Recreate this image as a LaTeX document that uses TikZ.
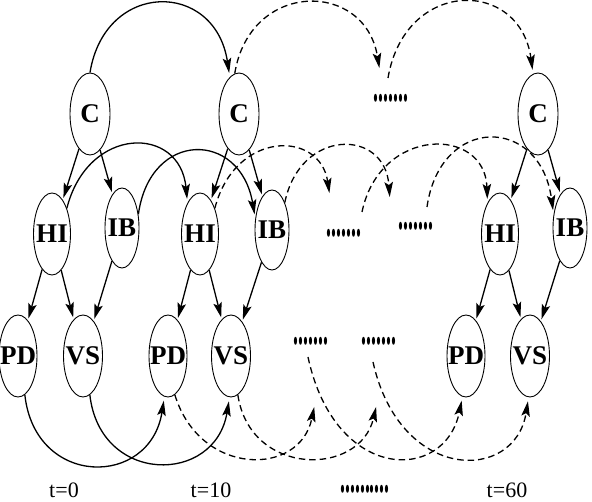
\documentclass[tikz,border=0pt]{standalone}
\usepackage{fontspec}
\setmainfont{Liberation Serif}
\usetikzlibrary{shapes.geometric,arrows.meta}
\newcommand{\dotrow}[1]{\scalebox{0.9}[2.2]{\bfseries #1}}
\begin{document}
\begin{tikzpicture}[x=1pt,y=-1pt,
  var/.style={draw, ellipse, line width=0.9pt, minimum height=82pt, inner sep=0pt, label={[lab]center:#1}},
  lab/.style={font=\fontsize{27}{27}\selectfont\bfseries, inner sep=0pt},
  tip/.style={-{Stealth[length=15pt,width=8.5pt,inset=3pt]}},
  edge/.style={line width=1.3pt, tip, shorten >=2pt},
  arcs/.style={line width=1.3pt, tip, shorten >=4pt},
  dsh/.style={dash pattern=on 6.5pt off 4pt},
  dots/.style={font=\fontsize{22}{22}\selectfont, inner sep=0pt},
  tlab/.style={font=\fontsize{22}{22}\selectfont, inner sep=0pt}
]
\useasboundingbox (0,0) rectangle (592,502);
% slice t=0
\node[var=C,  minimum width=40pt] (C1)  at (90,114) {};
\node[var=HI, minimum width=37pt] (HI1) at (52,234) {};
\node[var=IB, minimum width=34pt, minimum height=80pt] (IB1) at (122,228) {};
\node[var=PD, minimum width=38pt] (PD1) at (18,356) {};
\node[var=VS, minimum width=39pt] (VS1) at (83,356) {};
% slice t=10
\node[var=C,  minimum width=40pt] (C2)  at (239,114) {};
\node[var=HI, minimum width=37pt] (HI2) at (200,234) {};
\node[var=IB, minimum width=34pt, minimum height=80pt] (IB2) at (272,230) {};
\node[var=PD, minimum width=38pt] (PD2) at (168,356) {};
\node[var=VS, minimum width=39pt] (VS2) at (231,356) {};
% slice t=60
\node[var=C,  minimum width=40pt] (C3)  at (538,114) {};
\node[var=HI, minimum width=37pt] (HI3) at (500,234) {};
\node[var=IB, minimum width=34pt, minimum height=80pt] (IB3) at (570,228) {};
\node[var=PD, minimum width=38pt] (PD3) at (466,356) {};
\node[var=VS, minimum width=39pt] (VS3) at (530,356) {};
% placeholders
\node[dots] (dT)  at (391,98)  {\dotrow{.......}};
\node[dots] (dM1) at (344,233) {\dotrow{.......}};
\node[dots] (dM2) at (416,226) {\dotrow{.......}};
\node[dots] (dB1) at (311,341) {\dotrow{.......}};
\node[dots] (dB2) at (379,341) {\dotrow{.......}};
\coordinate (dTin)   at (380,72);
\coordinate (dTout)  at (388,78);
\coordinate (dM1in)  at (330,197);
\coordinate (dM1out) at (362,212);
\coordinate (dM2in)  at (390,201);
\coordinate (dM2out) at (427,207);
\coordinate (dB1in)  at (315,403);
\coordinate (dB1out) at (308,357);
\coordinate (dB2in)  at (377,403);
\coordinate (dB2out) at (373,362);
% time labels
\node[tlab] (t0)  at (64,490)  {t=0};
\node[tlab] (t10) at (211,490) {t=10};
\node[dots] (tdots) at (365,489) {\dotrow{..........}};
\node[tlab] (t60) at (507,490) {t=60};
% intra-slice edges
\foreach \s in {1,2,3}{
  \draw[edge] (C\s) -- (HI\s);
  \draw[edge] (C\s) -- (IB\s);
  \draw[edge] (HI\s) -- (PD\s);
  \draw[edge] (HI\s) -- (VS\s);
  \draw[edge] (IB\s) -- (VS\s);
}
% temporal arcs, top
\draw[arcs] (C1.north) .. controls (105,-20) and (215,-20) .. (C2.104);
\draw[arcs,dsh] (C2.96) .. controls (250,-20) and (365,-20) .. (dTin);
\draw[arcs,dsh] (dTout) .. controls (405,-22) and (520,-22) .. (C3.97);
% middle
\draw[arcs] (HI1.60) .. controls (88,125) and (180,125) .. (HI2.112);
\draw[arcs] (IB1.40) .. controls (150,130) and (240,130) .. (IB2.145);
\draw[arcs,dsh] (HI2.60) .. controls (235,130) and (320,130) .. (dM1in);
\draw[arcs,dsh] (IB2.65) .. controls (300,128) and (385,128) .. (dM2in);
\draw[arcs,dsh] (dM1out) .. controls (380,126) and (485,126) .. (HI3.112);
\draw[arcs,dsh] (dM2out) .. controls (440,115) and (540,115) .. (IB3.140);
% bottom
\draw[arcs] (PD1.-80) .. controls (35,488) and (150,488) .. (PD2.-95);
\draw[arcs] (VS1.-80) .. controls (100,485) and (215,485) .. (VS2.-92);
\draw[arcs,dsh] (PD2.-80) .. controls (200,477) and (300,477) .. (dB1in);
\draw[arcs,dsh] (VS2.-80) .. controls (250,477) and (360,477) .. (dB2in);
\draw[arcs,dsh] (dB1out) .. controls (335,483) and (445,483) .. (PD3.-95);
\draw[arcs,dsh] (dB2out) .. controls (400,483) and (515,483) .. (VS3.-92);
\end{tikzpicture}
\end{document}
